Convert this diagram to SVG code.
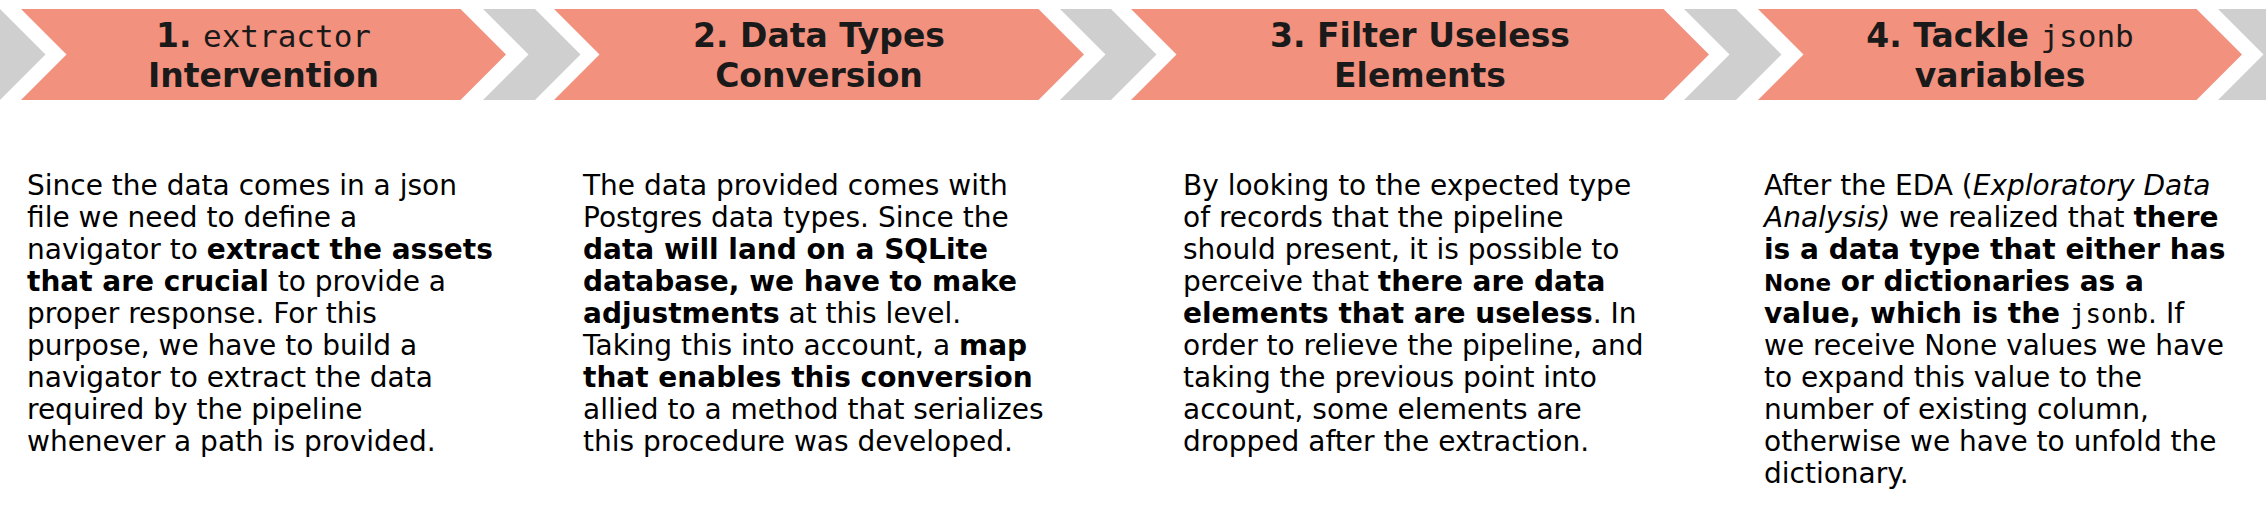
<svg xmlns="http://www.w3.org/2000/svg" width="2266" height="526" viewBox="0 0 2266 526">
<style>
.step{fill:#F2917E}
.conn{fill:#D0CFD0}
.hd{font-family:"DejaVu Sans","Verdana",sans-serif;font-weight:bold;font-size:33px;fill:#1a1a1a;text-anchor:middle}
.mono{font-family:"DejaVu Sans Mono","Liberation Mono",monospace;font-weight:normal}
.body{font-family:"DejaVu Sans","Verdana",sans-serif;font-size:28px;fill:#000}
.b{font-weight:bold}
.i{font-style:italic}
.sm{font-size:23px}
.code{font-family:"DejaVu Sans Mono","Liberation Mono",monospace;font-size:26px}
</style>
<rect width="2266" height="526" fill="#ffffff"/>
<g id="connectors">
<polygon class="conn" points="-60,9 0,9 45.5,54.5 0,100 -60,100 -14.5,54.5"/>
<polygon class="conn" points="483,9 535,9 580.5,54.5 535,100 483,100 528.5,54.5"/>
<polygon class="conn" points="1060,9 1111,9 1156.5,54.5 1111,100 1060,100 1105.5,54.5"/>
<polygon class="conn" points="1684,9 1736,9 1781.5,54.5 1736,100 1684,100 1729.5,54.5"/>
<polygon class="conn" points="2218,9 2300,9 2345.5,54.5 2300,100 2218,100 2263.5,54.5"/>
</g>
<g id="step1">
<polygon class="step" points="21,9 460.5,9 506,54.5 460.5,100 21,100 66.5,54.5"/>
<text class="hd" x="263.5" y="47">1. <tspan class="mono" font-size="31">extractor</tspan></text>
<text class="hd" x="263.5" y="87">Intervention</text>
<text class="body" x="27" y="195">
<tspan x="27" dy="0">Since the data comes in a json</tspan>
<tspan x="27" dy="32">file we need to define a</tspan>
<tspan x="27" dy="32">navigator to <tspan class="b">extract the assets</tspan></tspan>
<tspan x="27" dy="32"><tspan class="b">that are crucial</tspan> to provide a</tspan>
<tspan x="27" dy="32">proper response. For this</tspan>
<tspan x="27" dy="32">purpose, we have to build a</tspan>
<tspan x="27" dy="32">navigator to extract the data</tspan>
<tspan x="27" dy="32">required by the pipeline</tspan>
<tspan x="27" dy="32">whenever a path is provided.</tspan>
</text>
</g>
<g id="step2">
<polygon class="step" points="554,9 1038.5,9 1084,54.5 1038.5,100 554,100 599.5,54.5"/>
<text class="hd" x="819" y="47">2. Data Types</text>
<text class="hd" x="819" y="87">Conversion</text>
<text class="body" x="583" y="195">
<tspan x="583" dy="0">The data provided comes with</tspan>
<tspan x="583" dy="32">Postgres data types. Since the</tspan>
<tspan x="583" dy="32" class="b">data will land on a SQLite</tspan>
<tspan x="583" dy="32" class="b">database, we have to make</tspan>
<tspan x="583" dy="32"><tspan class="b">adjustments</tspan> at this level.</tspan>
<tspan x="583" dy="32">Taking this into account, a <tspan class="b">map</tspan></tspan>
<tspan x="583" dy="32" class="b">that enables this conversion</tspan>
<tspan x="583" dy="32">allied to a method that serializes</tspan>
<tspan x="583" dy="32">this procedure was developed.</tspan>
</text>
</g>
<g id="step3">
<polygon class="step" points="1131,9 1663.5,9 1709,54.5 1663.5,100 1131,100 1176.5,54.5"/>
<text class="hd" x="1420" y="47">3. Filter Useless</text>
<text class="hd" x="1420" y="87">Elements</text>
<text class="body" x="1183" y="195">
<tspan x="1183" dy="0">By looking to the expected type</tspan>
<tspan x="1183" dy="32">of records that the pipeline</tspan>
<tspan x="1183" dy="32">should present, it is possible to</tspan>
<tspan x="1183" dy="32">perceive that <tspan class="b">there are data</tspan></tspan>
<tspan x="1183" dy="32"><tspan class="b">elements that are useless</tspan>. In</tspan>
<tspan x="1183" dy="32">order to relieve the pipeline, and</tspan>
<tspan x="1183" dy="32">taking the previous point into</tspan>
<tspan x="1183" dy="32">account, some elements are</tspan>
<tspan x="1183" dy="32">dropped after the extraction.</tspan>
</text>
</g>
<g id="step4">
<polygon class="step" points="1758,9 2196.5,9 2242,54.5 2196.5,100 1758,100 1803.5,54.5"/>
<text class="hd" x="2000" y="47">4. Tackle <tspan class="mono" font-size="31">jsonb</tspan></text>
<text class="hd" x="2000" y="87">variables</text>
<text class="body" x="1764" y="195">
<tspan x="1764" dy="0">After the EDA (<tspan class="i">Exploratory Data</tspan></tspan>
<tspan x="1764" dy="32"><tspan class="i">Analysis)</tspan> we realized that <tspan class="b">there</tspan></tspan>
<tspan x="1764" dy="32" class="b">is a data type that either has</tspan>
<tspan x="1764" dy="32" class="b"><tspan class="sm">None</tspan> or dictionaries as a</tspan>
<tspan x="1764" dy="32"><tspan class="b">value, which is the </tspan><tspan class="code">jsonb</tspan>. If</tspan>
<tspan x="1764" dy="32">we receive None values we have</tspan>
<tspan x="1764" dy="32">to expand this value to the</tspan>
<tspan x="1764" dy="32">number of existing column,</tspan>
<tspan x="1764" dy="32">otherwise we have to unfold the</tspan>
<tspan x="1764" dy="32">dictionary.</tspan>
</text>
</g>
</svg>
